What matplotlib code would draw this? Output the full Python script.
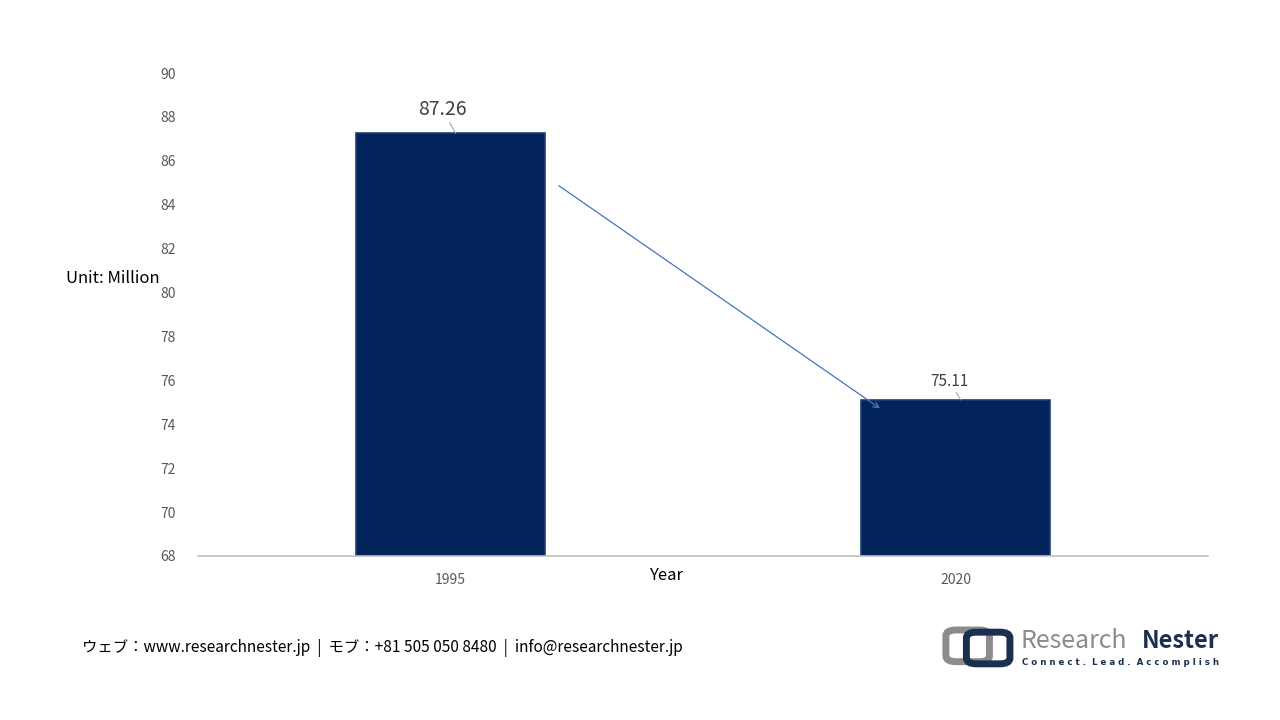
import matplotlib.pyplot as plt
from matplotlib.patches import FancyBboxPatch

plt.rcParams['font.family'] = ['Noto Sans CJK JP', 'DejaVu Sans']

# ============================== data =========================================

years = ["1995", "2020"]
population = [87.26, 75.11]
y_ticks = [68, 70, 72, 74, 76, 78, 80, 82, 84, 86, 88, 90]

NAVY = "#03245A"
GRAY_TXT = "#595959"

# ============================== main =========================================

def main():
    fig = plt.figure(figsize=(12.8, 7.2), dpi=100)
    ax = fig.add_axes([0.1547, 0.2278, 0.789, 0.6708])

    pos = list(range(len(years)))
    width = 0.376
    ax.bar(pos, population, width=width, bottom=0, color=NAVY,
           edgecolor="#1F3F73", linewidth=1.2, zorder=2)

    ax.set_xlim(-0.5, 1.5)
    ax.set_ylim(y_ticks[0], y_ticks[-1])
    ax.set_yticks(y_ticks)
    ax.set_xticks(pos)
    ax.set_xticklabels(years)
    ax.tick_params(length=0, labelsize=10, labelcolor=GRAY_TXT)
    ax.tick_params(axis="y", pad=16)
    ax.tick_params(axis="x", pad=12)
    for s in ["left", "right", "top"]:
        ax.spines[s].set_visible(False)
    ax.spines["bottom"].set_color("#BFBFBF")
    ax.spines["bottom"].set_linewidth(1.2)

    # value labels with leader lines
    sizes = [14, 11]
    offsets = [(-0.016, 1.08), (-0.012, 0.86)]
    for p, v, fs, (dx, dy) in zip(pos, population, sizes, offsets):
        ax.annotate("{:.2f}".format(v), xy=(p + 0.01, v), xytext=(p + dx, v + dy),
                    ha="center", va="center", fontsize=fs, color="#404040",
                    arrowprops=dict(arrowstyle="-", color="#A6A6A6", lw=0.8,
                                    shrinkA=0, shrinkB=0, zorder=3))

    # trend arrow
    ax.annotate("", xy=(pos[1] - 0.145, population[1] - 0.46),
                xytext=(pos[0] + 0.21, population[0] - 2.32),
                arrowprops=dict(arrowstyle="->", color="#4472C4", lw=0.9))

    fig.text(0.0516, 0.613, "Unit: Million", fontsize=12, color="#000000",
             va="center", ha="left")
    fig.text(0.520, 0.200, "Year", fontsize=12, color="#000000",
             va="center", ha="center")

    # footer
    fig.text(0.064, 0.100,
             "ウェブ：www.researchnester.jp  |  モブ：+81 505 050 8480  |  info@researchnester.jp",
             fontsize=11.1, color="#000000", va="center", ha="left")

    # logo
    fig.patches.append(FancyBboxPatch((0.741, 0.083), 0.030, 0.040,
                                      boxstyle="round,pad=0.002,rounding_size=0.008",
                                      transform=fig.transFigure, fill=False,
                                      edgecolor="#8C8C8C", linewidth=5))
    fig.patches.append(FancyBboxPatch((0.757, 0.080), 0.030, 0.040,
                                      boxstyle="round,pad=0.002,rounding_size=0.008",
                                      transform=fig.transFigure, fill=False,
                                      edgecolor="#1B2F4E", linewidth=5))
    fig.text(0.797, 0.110, "Research", fontsize=18, color="#8C8C8C",
             va="center", ha="left")
    fig.text(0.952, 0.110, "Nester", fontsize=17, color="#1B2F4E",
             fontweight="bold", va="center", ha="right")
    fig.text(0.952, 0.080, "C o n n e c t .  L e a d .  A c c o m p l i s h",
             fontsize=6.2, color="#1B2F4E", fontweight="bold",
             family="DejaVu Sans", va="center", ha="right")

    fig.savefig("out.png", dpi=100)


if __name__ == '__main__':
    main()
